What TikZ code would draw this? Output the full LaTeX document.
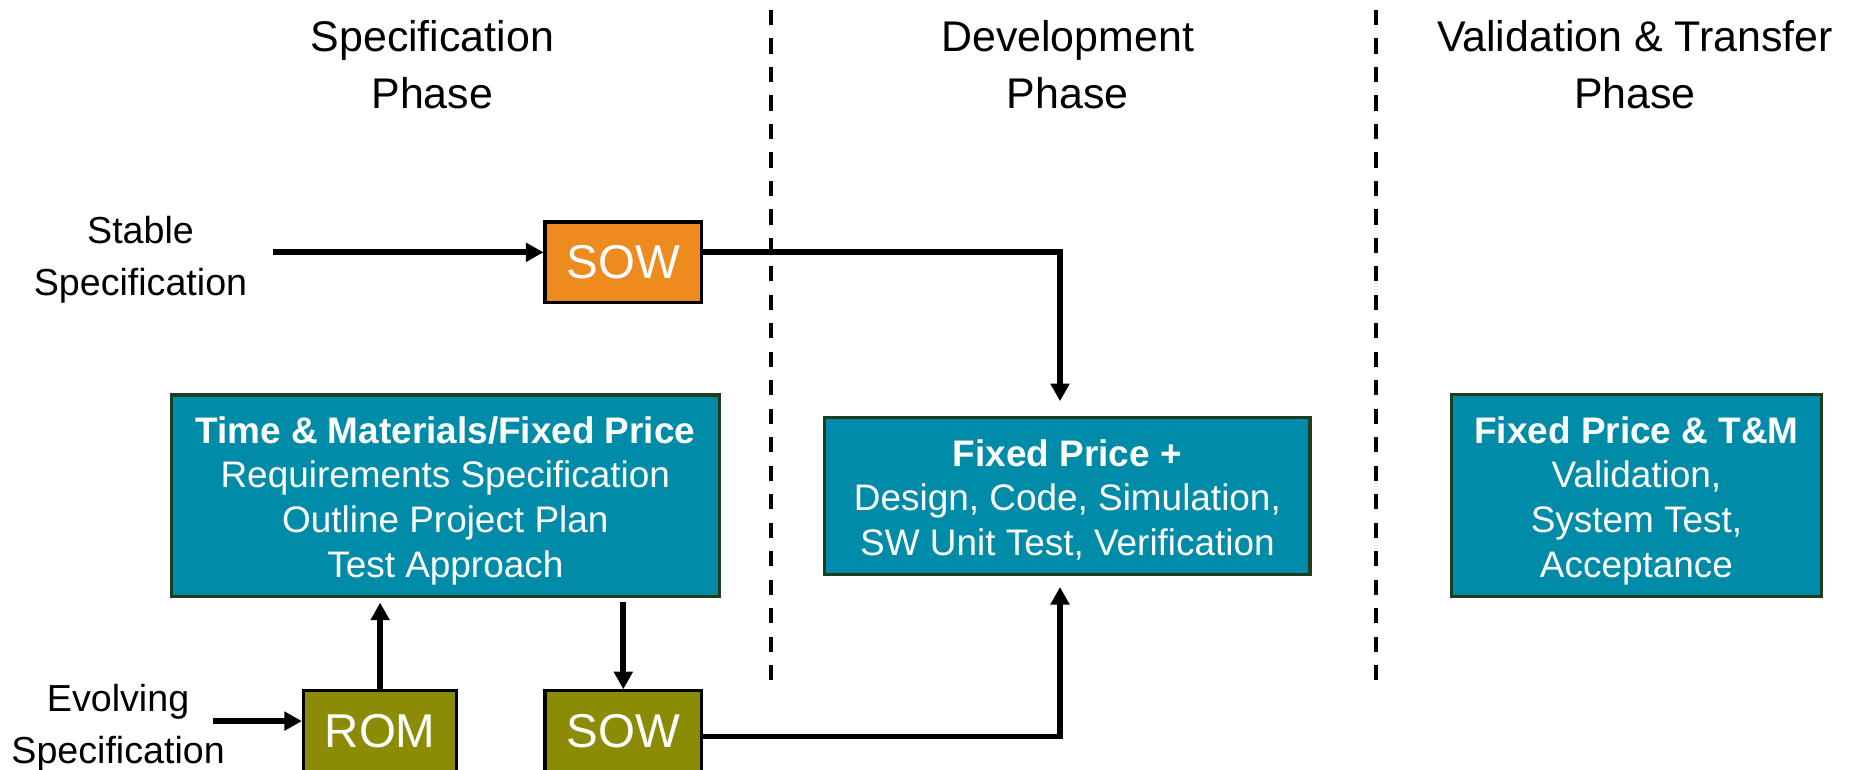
\documentclass[tikz,border=0pt]{standalone}
\usepackage{fontspec}
\setmainfont{Liberation Sans}
\usetikzlibrary{arrows.meta,positioning,calc}
\tikzset{>={Triangle[length=5pt,width=5.2pt]}}
\definecolor{boxteal}{RGB}{0,140,168}
\definecolor{boxedge}{RGB}{30,60,30}
\definecolor{soworange}{RGB}{238,139,31}
\definecolor{romolive}{RGB}{139,139,6}

\begin{document}
\begin{tikzpicture}[x=0.01cm, y=-0.01cm,
  heading/.style={align=center, font=\fontsize{12.2pt}{16.1pt}\selectfont},
  sidelabel/.style={align=center, font=\fontsize{10.7pt}{14.8pt}\selectfont},
  pricebox/.style={draw=boxedge, line width=0.9pt, fill=boxteal, text=white, align=center, inner sep=0pt, font=\fontsize{10.5pt}{12.7pt}\selectfont},
  docbox/.style={draw=black, line width=0.9pt, fill=#1, text=white, inner sep=0pt, minimum width=1.566cm, minimum height=0.809cm, font=\fontsize{13.5pt}{16pt}\selectfont},
  flow/.style={line width=1.6pt, ->},
  divider/.style={line width=1.2pt, dash pattern=on 4.3pt off 3.8pt}]

    \clip (0,0) rectangle (1852,770);

    % Phases
    \node[heading] (specphase) at (432.3,64.4) {Specification\\Phase};
    \node[heading] (devphase) at (1067.7,64.4) {Development\\Phase};
    \node[heading] (valphase) at (1635,64.4) {Validation \& Transfer\\Phase};

    \coordinate (divAtop) at (771.3,10);
    \coordinate (divAbot) at (771.3,690);
    \coordinate (divBtop) at (1375.7,10);
    \coordinate (divBbot) at (1375.7,690);
    \draw[divider] (divAtop) -- (divAbot);
    \draw[divider] (divBtop) -- (divBbot);

    % Inputs
    \node[sidelabel] (stable) at (140.5,259.3) {Stable\\Specification};
    \node[sidelabel] (evolving) at (118.1,727.7) {Evolving\\Specification};

    \node[docbox=soworange] (sowtop) at (623.4,262.4) {SOW};
    \node[docbox=romolive, minimum width=1.531cm] (rom) at (380.1,731.3) {ROM};
    \node[docbox=romolive] (sowbot) at (623.3,731.3) {SOW};

    % Contracts
    \node[pricebox, minimum width=5.48cm, minimum height=2.014cm] (tm) at (445.3,495.8)
        {\rule{0pt}{10.4pt}\textbf{Time \& Materials/Fixed Price}\\Requirements Specification\\Outline Project Plan\\Test Approach};
    \node[pricebox, minimum width=4.848cm, minimum height=1.566cm] (fixed) at (1067.4,496.1)
        {\rule{0pt}{9.8pt}\textbf{Fixed Price +}\\Design, Code, Simulation,\\SW Unit Test, Verification};
    \node[pricebox, minimum width=3.697cm, minimum height=2.017cm] (fixedtm) at (1636.4,495.8)
        {\rule{0pt}{10.4pt}\textbf{Fixed Price \& T\&M}\\Validation,\\System Test,\\Acceptance};

    % Flows
    \coordinate (stablein) at (272.8,252.3);
    \coordinate (evolvingin) at (213.3,721.1);
    \coordinate (topturn) at (1060,252.3);
    \coordinate (botturn) at (1060,736.6);

    \draw[flow] (stablein) -- (stablein -| sowtop.west);
    \draw[flow] (evolvingin) -- (evolvingin -| rom.west);
    \draw[flow, shorten >=0.15cm] (topturn -| sowtop.east) -- (topturn) -- (topturn |- fixed.north);
    \draw[flow, shorten >=0.11cm] (botturn -| sowbot.east) -- (botturn) -- (botturn |- fixed.south);
    \draw[flow, shorten >=0.045cm] (rom.north) -- (rom.north |- tm.south);
    \draw[flow, shorten <=0.04cm] (sowbot.north |- tm.south) -- (sowbot.north);
\end{tikzpicture}
\end{document}
